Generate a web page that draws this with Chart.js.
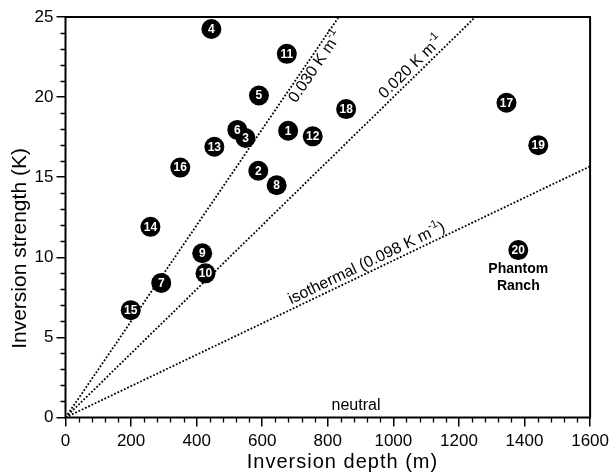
<!DOCTYPE html>
<html><head><meta charset="utf-8">
<script src="https://cdn.jsdelivr.net/npm/chart.js@4/dist/chart.umd.min.js"></script>
<style>html,body{margin:0;padding:0;background:#fff}#wrap{width:614px;height:476px}</style>
</head><body><div id="wrap"><canvas id="c" width="614" height="476"></canvas></div>
<script>
// ---- data ----
const siteIds    = [1, 2, 3, 4, 5, 6, 7, 8, 9, 10, 11, 12, 13, 14, 15, 16, 17, 18, 19, 20];
const depthM     = [679, 588, 549, 445, 590, 524, 292, 644, 417, 427, 675, 754, 454, 259, 199, 350, 1345, 856, 1442, 1381];
const strengthK  = [17.9, 15.4, 17.45, 24.25, 20.1, 17.95, 8.4, 14.5, 10.25, 9.0, 22.7, 17.55, 16.9, 11.9, 6.7, 15.6, 19.65, 19.25, 17.0, 10.45];
const gradientSlopes = [0.030, 0.020, 0.0098];          // K per m
const gradientText   = ['0.030 K m', '0.020 K m', 'isothermal (0.098 K m'];
const gradientSup    = ['-1', '-1', '-1'];
const gradientTail   = ['', '', ')'];
const gradientLabelDepth = [740, 1073, 931];           // m along the line where label sits
const gradientLabelSide  = [1, -1, -1];                 // +1 below the line, -1 above
const xMin = 0, xMax = 1600, xMajor = 200, xMinor = 40;
const yMin = 0, yMax = 25,   yMajor = 5,   yMinor = 1;
const xTitle = 'Inversion depth (m)';
const yTitle = 'Inversion strength (K)';
const neutralText = 'neutral';
const neutralAt = [886, 0.75];
const phantomLines = ['Phantom', 'Ranch'];
const phantomIndex = 19;

const FONT = "'Liberation Sans', Arial, Helvetica, sans-serif";

const points = depthM.map((x, i) => ({x, y: strengthK[i]}));
const lineSets = gradientSlopes.map(s => {
  const xe = Math.min(xMax, yMax / s);
  return {
    type: 'line', data: [{x: 0, y: 0}, {x: xe, y: s * xe}],
    borderColor: '#000', borderWidth: 1.8, borderDash: [1.8, 1.8],
    pointRadius: 0, fill: false, tension: 0
  };
});

const deco = {
  id: 'deco',
  afterDatasetsDraw(chart) {
    const ctx = chart.ctx, xs = chart.scales.x, ys = chart.scales.y, a = chart.chartArea;
    ctx.save();
    // point numbers
    ctx.fillStyle = '#fff';
    ctx.font = 'bold 12px ' + FONT;
    ctx.textAlign = 'center'; ctx.textBaseline = 'middle';
    points.forEach((p, i) => {
      ctx.fillText(String(siteIds[i]), xs.getPixelForValue(p.x), ys.getPixelForValue(p.y) + 0.5);
    });
    // gradient line labels
    ctx.fillStyle = '#000';
    gradientSlopes.forEach((s, i) => {
      const x0 = xs.getPixelForValue(0), y0 = ys.getPixelForValue(0);
      const x1 = xs.getPixelForValue(1000), y1 = ys.getPixelForValue(1000 * s);
      const ang = Math.atan2(y1 - y0, x1 - x0);
      const px = xs.getPixelForValue(gradientLabelDepth[i]);
      const py = ys.getPixelForValue(gradientLabelDepth[i] * s);
      ctx.save();
      ctx.translate(px, py);
      ctx.rotate(ang);
      ctx.translate(0, gradientLabelSide[i] * 9);
      ctx.textBaseline = 'middle'; ctx.textAlign = 'left';
      ctx.font = '16px ' + FONT;
      const w1 = ctx.measureText(gradientText[i]).width;
      const w3 = ctx.measureText(gradientTail[i]).width;
      ctx.font = '11px ' + FONT;
      const w2 = ctx.measureText(gradientSup[i]).width;
      let sx = -(w1 + w2 + w3) / 2;
      ctx.font = '16px ' + FONT;
      ctx.fillText(gradientText[i], sx, 0);
      ctx.font = '11px ' + FONT;
      ctx.fillText(gradientSup[i], sx + w1, -6);
      ctx.font = '16px ' + FONT;
      ctx.fillText(gradientTail[i], sx + w1 + w2, 0);
      ctx.restore();
    });
    // neutral
    ctx.font = '16px ' + FONT;
    ctx.textAlign = 'center'; ctx.textBaseline = 'middle';
    ctx.fillText(neutralText, xs.getPixelForValue(neutralAt[0]), ys.getPixelForValue(neutralAt[1]));
    // Phantom Ranch
    ctx.font = 'bold 14px ' + FONT;
    const phx = xs.getPixelForValue(depthM[phantomIndex]);
    const phy = ys.getPixelForValue(strengthK[phantomIndex]);
    phantomLines.forEach((t, k) => ctx.fillText(t, phx, phy + 19 + k * 17.5));
    // minor ticks
    ctx.strokeStyle = '#000'; ctx.lineWidth = 1.3;
    ctx.beginPath();
    for (let v = xMin; v <= xMax; v += xMinor) {
      if (v % xMajor === 0) continue;
      const px = Math.round(xs.getPixelForValue(v)) + 0.5;
      ctx.moveTo(px, a.bottom); ctx.lineTo(px, a.bottom + 5);
    }
    for (let v = yMin; v <= yMax; v += yMinor) {
      if (v % yMajor === 0) continue;
      const py = Math.round(ys.getPixelForValue(v)) + 0.5;
      ctx.moveTo(a.left, py); ctx.lineTo(a.left - 5, py);
    }
    ctx.stroke();
    // frame
    ctx.lineWidth = 2;
    ctx.strokeRect(a.left, a.top, a.right - a.left, a.bottom - a.top);
    // axis titles (placed as in the scanned figure)
    ctx.fillStyle = '#000';
    ctx.textAlign = 'center'; ctx.textBaseline = 'middle';
    ctx.font = '20px ' + FONT;
    try { ctx.letterSpacing = '1px'; } catch (e) {}
    ctx.fillText(xTitle, a.left + (a.right - a.left) * 0.527 + 0.5, 462);
    try { ctx.letterSpacing = '0px'; } catch (e) {}
    ctx.save();
    ctx.translate(20, a.top + (a.bottom - a.top) * 0.578);
    ctx.rotate(-Math.PI / 2);
    ctx.font = '21px ' + FONT;
    ctx.fillText(yTitle, 0, 0);
    ctx.restore();
    ctx.restore();
  }
};

new Chart(document.getElementById('c'), {
  type: 'scatter',
  data: {
    datasets: [
      {data: points, pointRadius: 10, pointBackgroundColor: '#000', pointBorderColor: '#000', pointBorderWidth: 0, pointHoverRadius: 10},
      ...lineSets
    ]
  },
  options: {
    responsive: false, devicePixelRatio: 1, animation: false, events: [],
    layout: {padding: {top: 17, right: 23, left: 0, bottom: 0}},
    plugins: {legend: {display: false}, tooltip: {enabled: false}},
    scales: {
      x: {
        type: 'linear', min: xMin, max: xMax,
        afterFit(s) { s.height = 58.5; },
        ticks: {stepSize: xMajor, color: '#000', font: {family: FONT, size: 17}, padding: 5, maxRotation: 0,
                callback: v => String(v)},
        grid: {drawOnChartArea: false, drawTicks: true, tickLength: 9, color: '#000', lineWidth: 1.5},
        border: {display: false},
        title: {display: false, text: xTitle}
      },
      y: {
        type: 'linear', min: yMin, max: yMax,
        afterFit(s) { s.width = 65.5; },
        ticks: {stepSize: yMajor, color: '#000', font: {family: FONT, size: 17}, padding: 3,
                callback: v => String(v)},
        grid: {drawOnChartArea: false, drawTicks: true, tickLength: 9, color: '#000', lineWidth: 1.5},
        border: {display: false},
        title: {display: false, text: yTitle}
      }
    }
  },
  plugins: [deco]
});
</script>
</body></html>
